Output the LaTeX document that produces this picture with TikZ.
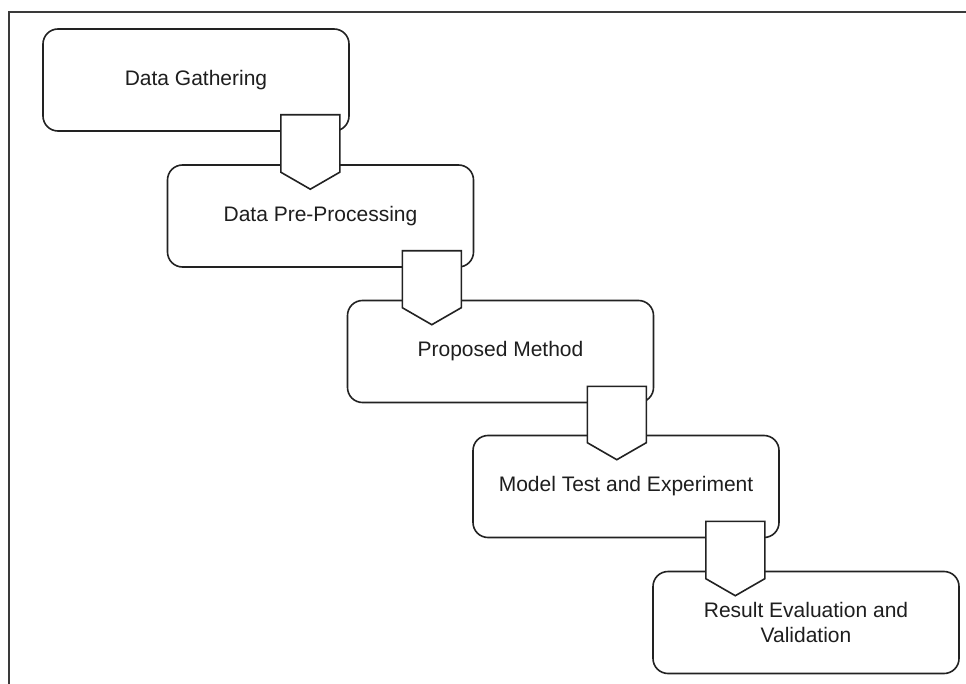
\documentclass[tikz,border=0pt]{standalone}
\usepackage{fontspec}
\setmainfont{Liberation Sans}
\usepackage{tikz}
\usetikzlibrary{calc,positioning}
\definecolor{boxLine}{HTML}{222222}
\definecolor{boxText}{HTML}{1E1E1E}
\definecolor{frameGray}{HTML}{3A3A3A}

\begin{document}
\begin{tikzpicture}[x=1pt, y=-1pt,
  every node/.style={font=\fontsize{21}{25}\selectfont, text=boxText},
  stage/.style={draw=boxLine, line width=1.6pt, fill=white, rounded corners=15pt,
                minimum width=306pt, minimum height=102pt, inner sep=0pt, align=center},
  blockarrow/.style={draw=boxLine, line width=1.6pt, fill=white, line join=miter},
  frame/.style={draw=frameGray, line width=2.4pt},
]
\useasboundingbox (0,0) rectangle (966,684);

% Outer frame (top and left edges only)
\draw[frame] (9,684) -- (9,12) -- (966,12);

% Stages
\node[stage] (gather) at (196,80) {Data Gathering};
\node[stage] (prep) at (320.5,216) {Data Pre-Processing};
\node[stage] (method) at (500.5,351.5) {Proposed Method};
\node[stage] (test) at (626,486.5) {Model Test and Experiment};
\node[stage] (result) at (806,622.5) {Result Evaluation and\\Validation};

% Block arrows between stages
\draw[blockarrow] ($(gather.south east)+(-69,-17)$) coordinate (a1) -- ++(59,0)
  -- ($(a1 |- prep.north)+(59,8)$) -- ++(-29.5,17) -- ++(-29.5,-17) -- cycle;
\draw[blockarrow] ($(prep.south east)+(-72,-17)$) coordinate (a2) -- ++(59,0)
  -- ($(a2 |- method.north)+(59,8)$) -- ++(-29.5,17) -- ++(-29.5,-17) -- cycle;
\draw[blockarrow] ($(method.south east)+(-67,-17)$) coordinate (a3) -- ++(59,0)
  -- ($(a3 |- test.north)+(59,8)$) -- ++(-29.5,17) -- ++(-29.5,-17) -- cycle;
\draw[blockarrow] ($(test.south east)+(-74,-17)$) coordinate (a4) -- ++(59,0)
  -- ($(a4 |- result.north)+(59,8)$) -- ++(-29.5,17) -- ++(-29.5,-17) -- cycle;

\end{tikzpicture}
\end{document}
